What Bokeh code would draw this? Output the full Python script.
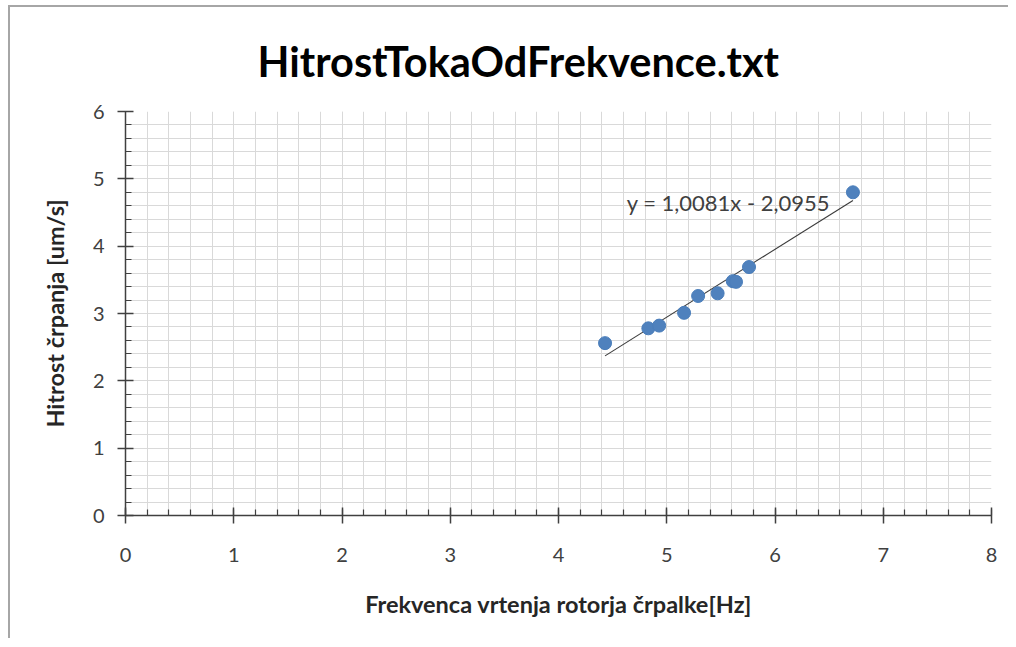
from bokeh.plotting import figure
from bokeh.models import Range1d, SingleIntervalTicker, Label, ColumnDataSource
from bokeh.embed import file_html
from bokeh.resources import INLINE

# data
freq = [4.43, 4.83, 4.93, 5.16, 5.29, 5.47, 5.61, 5.64, 5.76, 6.72]
speed = [2.56, 2.78, 2.82, 3.01, 3.26, 3.30, 3.48, 3.47, 3.69, 4.80]
slope = 1.0081
intercept = -2.0955
eq_text = "y = 1,0081x - 2,0955"
title_text = "HitrostTokaOdFrekvence.txt"
x_label = "Frekvenca vrtenja rotorja črpalke[Hz]"
y_label = "Hitrost črpanja [um/s]"

FONT = "Lato"

p = figure(width=1000, height=633, output_backend="svg", toolbar_location=None,
           x_range=Range1d(0, 8), y_range=Range1d(0, 6),
           min_border_left=115, min_border_right=19, min_border_top=103, min_border_bottom=125,
           styles={"border-left": "2px solid #a6a6a6", "border-top": "2px solid #a6a6a6",
                   "margin-left": "8px", "margin-top": "5px"})
p.outline_line_color = None
p.background_fill_color = "white"
p.border_fill_color = "white"

p.title.text = title_text
p.title.text_font = FONT
p.title.text_font_size = "41.5px"
p.title.text_font_style = "bold"
p.title.text_color = "#000000"
p.title.align = "left"
p.title.offset = 132
p.title.standoff = 52

for ax in (p.xaxis, p.yaxis):
    ax.ticker = SingleIntervalTicker(interval=1, num_minor_ticks=5)
    ax.axis_line_color = "#404040"
    ax.axis_line_width = 1.5
    ax.major_tick_line_color = "#404040"
    ax.major_tick_line_width = 1.5
    ax.minor_tick_line_color = "#404040"
    ax.minor_tick_line_width = 1.2
    ax.major_tick_in = 8
    ax.major_tick_out = 8
    ax.minor_tick_in = 6
    ax.minor_tick_out = 0
    ax.major_label_text_font = FONT
    ax.major_label_text_font_size = "20px"
    ax.major_label_text_color = "#404040"
    ax.axis_label_text_font = FONT
    ax.axis_label_text_font_style = "bold"
    ax.axis_label_text_font_size = "23.5px"
    ax.axis_label_text_color = "#262626"

p.xaxis.major_label_standoff = 24
p.yaxis.major_label_standoff = 13
p.xaxis.axis_label_standoff = 25
p.yaxis.axis_label_standoff = 21
p.xaxis.axis_label = x_label
p.yaxis.axis_label = y_label

for g in (p.xgrid, p.ygrid):
    g.ticker = SingleIntervalTicker(interval=1, num_minor_ticks=5)
    g.grid_line_color = "#d9d9d9"
    g.grid_line_width = 1
    g.minor_grid_line_color = "#d9d9d9"
    g.minor_grid_line_width = 1

src = ColumnDataSource(dict(x=freq, y=speed))

x0, x1 = min(freq), max(freq)
p.line([x0, x1], [slope * x0 + intercept, slope * x1 + intercept], line_color="#3a3a3a", line_width=1.1)
p.scatter("x", "y", source=src, size=13, fill_color="#4F81BD", line_color="#4A7EBB", line_width=1)

p.add_layout(Label(x=4.63, y=4.65, text=eq_text, text_font=FONT, text_font_size="22px",
                   text_color="#404040", text_align="left", text_baseline="alphabetic"))

open("out.html", "w").write(file_html(p, INLINE))
